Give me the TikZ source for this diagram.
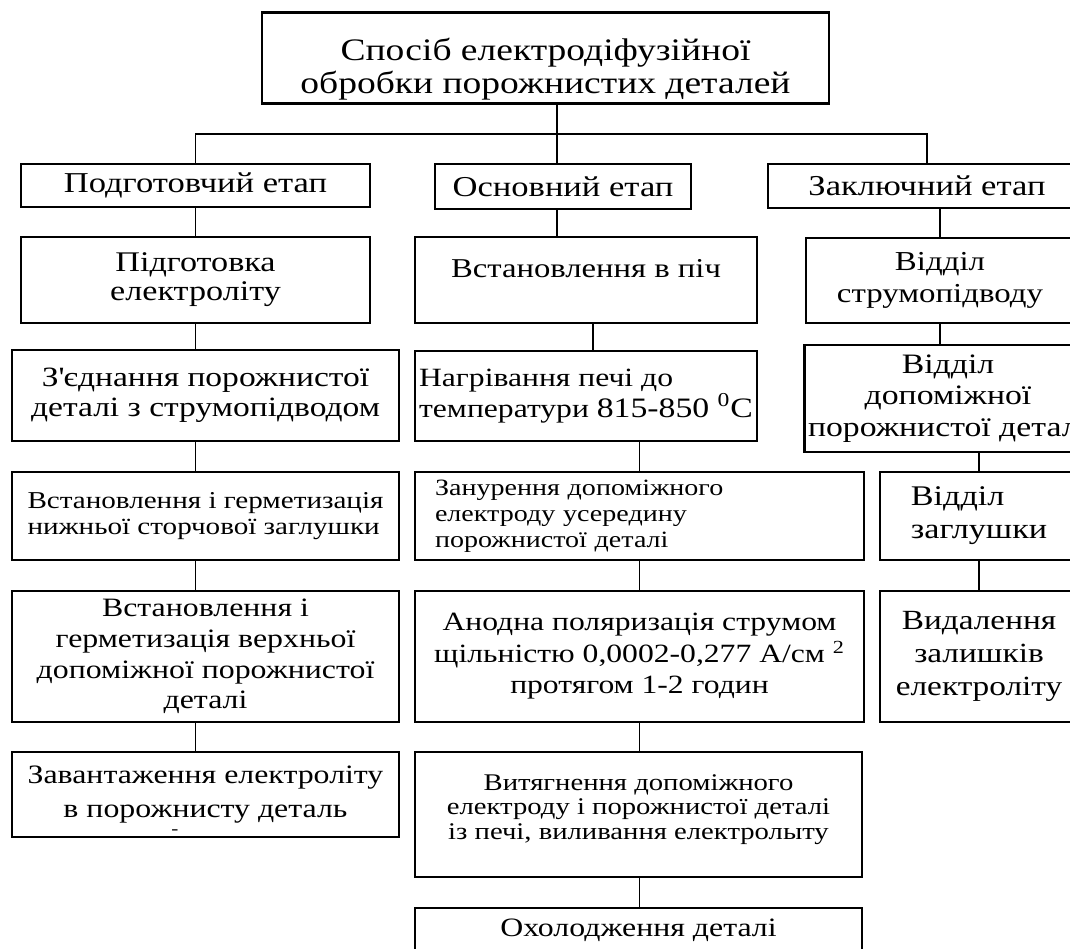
\documentclass[tikz,border=0pt]{standalone}
\usepackage{fontspec}
\setmainfont[FakeStretch=1.2]{Liberation Serif}
\begin{document}
\begin{tikzpicture}[x=0.02cm,y=-0.02cm,
    blok/.style={draw,line width=1.5pt,rectangle,inner sep=2pt,align=center},
    zvyazok/.style={line width=1.1pt}]
  \useasboundingbox (0,0) rectangle (1070,948);
  \clip (0,0) rectangle (1070,948);
  \fill[white] (0,0) rectangle (1070,948);

  \node[blok,minimum width=11.34cm,minimum height=1.8cm,text height=44pt,text depth=4pt,font=\fontsize{17.8}{18.7}\selectfont] (sposib) at (545.5,58) {Спосіб електродіфузійної\\обробки порожнистих деталей};

  \node[blok,minimum width=6.98cm,minimum height=0.86cm,font=\fontsize{16.4}{18}\selectfont] (podg) at (195.5,185.5) {Подготовчий етап};
  \node[blok,minimum width=5.12cm,minimum height=0.9cm,font=\fontsize{16.4}{18}\selectfont] (osn) at (563,186.5) {Основний етап};
  \node[blok,minimum width=6.36cm,minimum height=0.88cm,font=\fontsize{16.4}{18}\selectfont] (zakl) at (927,186) {Заключний етап};

  \node[blok,minimum width=6.98cm,minimum height=1.72cm,font=\fontsize{16.2}{16.5}\selectfont] (pidg) at (195.5,280) {Підготовка\\електроліту};
  \node[blok,minimum width=7.74cm,minimum height=1.82cm,font=\fontsize{15.9}{17}\selectfont] (zjed) at (205.5,395.5) {З\textquotesingle єднання порожнистої\\деталі з струмопідводом};
  \node[blok,minimum width=7.74cm,minimum height=1.76cm,align=left,font=\fontsize{13.8}{14.7}\selectfont] (nyzh) at (205.5,516) {Встановлення і герметизація\\нижньої сторчової заглушки};
  \node[blok,minimum width=7.74cm,minimum height=2.62cm,font=\fontsize{15.1}{17.4}\selectfont] (verkh) at (205.5,656.5) {Встановлення і\\герметизація верхньої\\ допоміжної порожнистої\\деталі};
  \node[blok,minimum width=7.74cm,minimum height=1.7cm,font=\fontsize{15.1}{19}\selectfont] (zavant) at (205.5,794.5) {Завантаження електроліту\\в порожнисту деталь};
  \node[font=\fontsize{10}{10}\selectfont] (rysk) at (175,832) {-};

  \node[blok,minimum width=6.84cm,minimum height=1.72cm,text depth=13.6pt,font=\fontsize{15.5}{17}\selectfont] (pich) at (586,280) {Встановлення в піч};
  \node[blok,minimum width=6.84cm,minimum height=1.8cm,inner xsep=0pt,align=left,font=\fontsize{15}{15.3}\selectfont] (nagr) at (586,396) {Нагрівання печі до\\температури {\fontsize{16}{16}\selectfont 815-850 \textsuperscript{0}C}};
  \node[blok,text width=8.18cm,inner xsep=0.4cm,minimum height=1.76cm,align=left,font=\fontsize{13.3}{14.7}\selectfont] (zanur) at (639.5,516) {Занурення допоміжного\\електроду усередину\\порожнистої деталі};
  \node[blok,minimum width=8.98cm,minimum height=2.62cm,font=\fontsize{15}{17.9}\selectfont] (anod) at (639.5,656.5) {Анодна поляризація струмом\\щільністю 0,0002-0,277 А/см \textsuperscript{2}\\протягом 1-2 годин};
  \node[blok,minimum width=8.94cm,minimum height=2.5cm,text depth=8.5pt,font=\fontsize{13.6}{14.2}\selectfont] (vytyag) at (638.5,814.5) {Витягнення допоміжного\\електроду і порожнистої деталі\\із печі, виливання електролыту};
  \node[blok,minimum width=8.94cm,minimum height=0.88cm,font=\fontsize{15.1}{17}\selectfont] (okhol) at (638.5,930) {Охолодження деталі};

  \node[blok,minimum width=5.36cm,minimum height=1.7cm,font=\fontsize{15.6}{18}\selectfont] (strum) at (940,280.5) {Відділ\\струмопідводу};
  \node[blok,minimum width=5.68cm,minimum height=2.14cm,font=\fontsize{16}{17.9}\selectfont] (dopom) at (948,398.5) {Відділ\\допоміжної\\порожнистої деталі};
  \node[blok,minimum width=3.96cm,minimum height=1.76cm,align=left,font=\fontsize{16.2}{18.7}\selectfont] (zagl) at (979,516) {Відділ\\заглушки};
  \node[blok,minimum width=3.96cm,minimum height=2.62cm,font=\fontsize{15.8}{18.7}\selectfont] (vydal) at (979,656.5) {Видалення\\залишків\\електроліту};

  \coordinate (shyna) at (557,134);
  \draw[zvyazok] (sposib.south -| shyna) -- (shyna);
  \draw[zvyazok] (podg.north) |- (shyna) -| (zakl.north);
  \draw[zvyazok] (shyna) -- (shyna |- osn.north);

  \foreach \a/\b in {podg/pidg,pidg/zjed,zjed/nyzh,nyzh/verkh,verkh/zavant}
    \draw[zvyazok] (\a.south -| podg) -- (\b.north -| podg);

  \draw[zvyazok] (osn.south -| shyna) -- (pich.north -| shyna);
  \draw[zvyazok] ([xshift=0.14cm]pich.south) -- ([xshift=0.14cm]nagr.north);
  \foreach \a/\b in {nagr/zanur,zanur/anod,anod/vytyag,vytyag/okhol}
    \draw[zvyazok] (\a.south -| zanur) -- (\b.north -| zanur);

  \draw[zvyazok] (zakl.south -| strum) -- (strum.north);
  \draw[zvyazok] (strum.south) -- (dopom.north -| strum);
  \draw[zvyazok] (dopom.south -| zagl) -- (zagl.north);
  \draw[zvyazok] (zagl.south) -- (vydal.north);
\end{tikzpicture}
\end{document}
